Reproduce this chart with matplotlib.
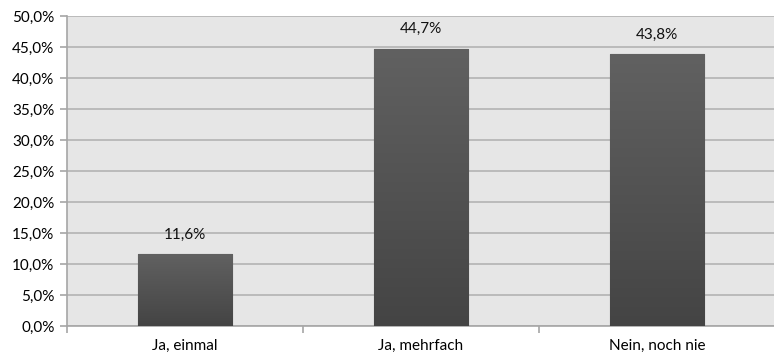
import numpy as np
from matplotlib import pyplot as plt, colors as mcolors
from matplotlib.ticker import FuncFormatter

categories = ["Ja, einmal", "Ja, mehrfach", "Nein, noch nie"]
values = [11.6, 44.7, 43.8]
y_ticks = [0, 5, 10, 15, 20, 25, 30, 35, 40, 45, 50]

plt.rcParams["font.family"] = ["Lato", "DejaVu Sans"]

fig = plt.figure(figsize=(7.74, 3.58), dpi=100)
ax = fig.add_axes([67 / 774, 32 / 358, 708 / 774, 310 / 358])
ax.set_facecolor("#e6e6e6")

x = np.arange(len(categories))
bars = ax.bar(x, values, width=0.4, color="#555555", edgecolor="#4a4a4a", linewidth=0.8, zorder=3)

# vertical gradient inside each bar
grad = np.linspace(0, 1, 256).reshape(-1, 1)
cmap = mcolors.LinearSegmentedColormap.from_list("g", ["#444444", "#616161"])
for b in bars:
    x0, w, h = b.get_x(), b.get_width(), b.get_height()
    im = ax.imshow(grad, extent=(x0, x0 + w, 0, h), origin="lower", cmap=cmap,
                   aspect="auto", zorder=3.5)
    im.set_clip_path(b)

for xi, v in zip(x, values):
    ax.annotate(f"{v:.1f}%".replace(".", ","), (xi, v), xytext=(0, 9),
                textcoords="offset points", ha="center", va="bottom", fontsize=11, color="#111111")

ax.set_xlim(-0.5, len(categories) - 0.5)
ax.set_ylim(0, 50)
ax.set_yticks(y_ticks)
ax.yaxis.set_major_formatter(FuncFormatter(lambda v, _: f"{v:.1f}%".replace(".", ",")))
ax.grid(axis="y", color="#b3b3b3", linewidth=1.2, zorder=0)
ax.set_axisbelow(True)

ax.set_xticks(x)
ax.set_xticklabels(categories, fontsize=11)
ax.set_xticks(np.arange(len(categories) + 1) - 0.5, minor=True)
ax.tick_params(axis="x", which="major", length=0, pad=9)
ax.tick_params(axis="x", which="minor", length=5, color="#a6a6a6", width=1.2)
ax.tick_params(axis="y", length=5, color="#a6a6a6", width=1.2, labelsize=11, pad=4)

for s in ["top", "right"]:
    ax.spines[s].set_visible(False)
for s in ["left", "bottom"]:
    ax.spines[s].set_color("#a6a6a6")
    ax.spines[s].set_linewidth(1.2)

fig.savefig("out.png", dpi=100)
